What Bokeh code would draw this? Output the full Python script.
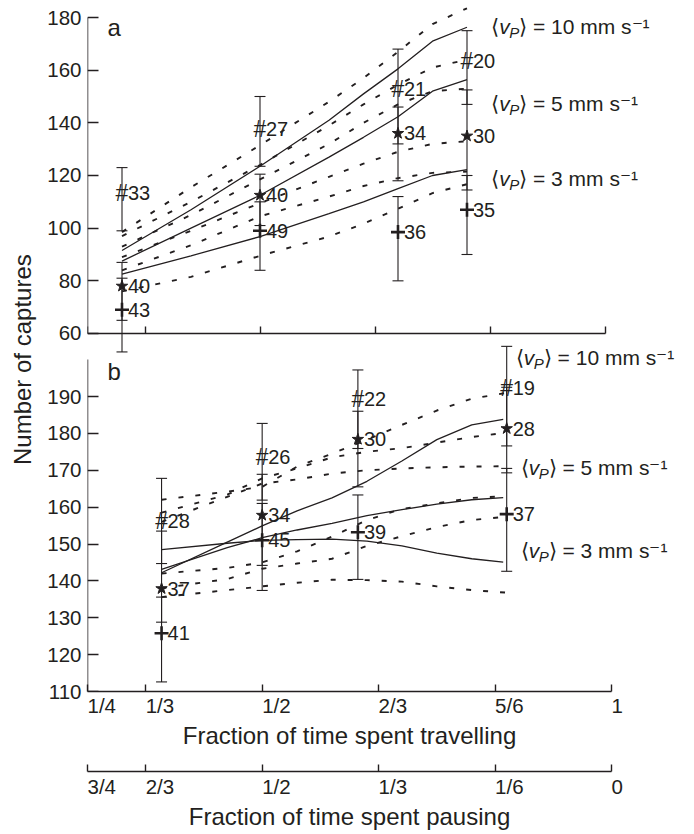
import math
from bokeh.plotting import figure
from bokeh.models import Range1d, LinearAxis, FixedTicker, Label
from bokeh.layouts import column
from bokeh.embed import file_html
from bokeh.resources import INLINE
from bokeh.core.properties import value
from bokeh.core.validation import silence
from bokeh.core.validation.warnings import MISSING_RENDERERS

silence(MISSING_RENDERERS, True)

# ------------------------------------------------------------------ data
TICKS_X = [1 / 4, 1 / 3, 1 / 2, 2 / 3, 5 / 6, 1.0]
TRAVEL_LABELS = ["1/4", "1/3", "1/2", "2/3", "5/6", "1"]
PAUSE_LABELS = ["3/4", "2/3", "1/2", "1/3", "1/6", "0"]
TICKS_Y_A = [60, 80, 100, 120, 140, 160, 180]
TICKS_Y_B = [110, 120, 130, 140, 150, 160, 170, 180, 190]
SPEED_TXT = ["10", "5", "3"]

# panel a : observations  (# = 10, star = 5, plus = 3 mm/s)
COL_A = [0.30, 0.50, 0.70, 0.80]
HASH_A = [113.5, 137.5, 153.0, 163.5]
HASH_A_LO = [99.0, 123.5, 132.0, 147.0]
HASH_A_HI = [123.0, 150.0, 168.0, 175.0]
HASH_A_N = [33, 27, 21, 20]
STAR_A = [78.0, 112.5, 136.0, 135.0]
STAR_A_LO = [65.0, 101.0, 118.0, 114.5]
STAR_A_HI = [87.0, 120.5, 146.0, 152.5]
STAR_A_N = [40, 40, 34, 30]
PLUS_A = [69.0, 99.0, 98.5, 107.0]
PLUS_A_LO = [53.0, 84.0, 80.0, 90.0]
PLUS_A_HI = [81.0, 110.0, 112.0, 120.0]
PLUS_A_N = [43, 49, 36, 35]

# panel a : model curves
FIT_A_X = [0.30, 0.40, 0.50, 0.60, 0.65, 0.70, 0.75, 0.80]
FIT_A_10 = [91.5, 107.0, 123.5, 141.0, 151.0, 160.5, 171.0, 176.3]
FIT_A_5 = [87.5, 100.0, 112.5, 127.0, 134.5, 142.3, 152.0, 156.4]
FIT_A_3 = [82.5, 89.5, 96.8, 105.5, 110.0, 115.0, 120.0, 122.2]
DASH_A_X = [0.30, 0.40, 0.50, 0.60, 0.65, 0.70, 0.75, 0.80]
DASH_A_1 = [98.5, 115.5, 131.5, 148.0, 157.0, 167.0, 177.5, 183.5]
DASH_A_2 = [97.0, 110.0, 124.0, 139.0, 147.0, 154.5, 161.0, 164.0]
DASH_A_3 = [93.0, 105.0, 118.5, 132.0, 140.0, 147.0, 152.0, 153.0]
DASH_A_4 = [89.0, 99.0, 109.5, 119.5, 124.5, 129.0, 132.0, 133.0]
DASH_A_5 = [84.0, 93.5, 104.5, 112.0, 116.0, 119.0, 121.0, 121.5]
DASH_A_6 = [76.0, 81.5, 89.5, 96.8, 101.7, 107.4, 113.3, 116.7]

# panel b : observations
COL_B = [0.356, 0.50, 0.637, 0.85]
HASH_B = [156.3, 173.7, 189.3, 192.2]
HASH_B_LO = [144.7, 161.9, 175.9, 176.6]
HASH_B_HI = [167.8, 182.7, 197.2, 203.6]
HASH_B_N = [28, 26, 22, 19]
STAR_B = [137.9, 157.8, 178.4, 181.3]
STAR_B_LO = [128.8, 144.2, 165.5, 169.3]
STAR_B_HI = [153.5, 168.9, 186.0, 192.5]
STAR_B_N = [37, 34, 30, 28]
PLUS_B = [125.8, 151.0, 153.2, 158.1]
PLUS_B_LO = [112.6, 137.4, 140.4, 142.6]
PLUS_B_HI = [135.6, 161.0, 163.3, 170.5]
PLUS_B_N = [41, 45, 39, 37]

# panel b : model curves
FIT_B_X = [0.356, 0.45, 0.50, 0.55, 0.60, 0.65, 0.70, 0.75, 0.80, 0.845]
FIT_B_10 = [142.2, 150.5, 154.9, 159.0, 162.5, 167.0, 172.5, 178.3, 182.3, 183.8]
FIT_B_5 = [143.1, 149.0, 151.7, 153.8, 155.6, 157.7, 159.3, 160.8, 162.0, 162.6]
FIT_B_3 = [148.5, 150.2, 151.0, 151.2, 151.3, 150.8, 149.5, 147.5, 146.0, 145.1]
DASH_B_X = [0.356, 0.45, 0.50, 0.55, 0.60, 0.65, 0.70, 0.75, 0.80, 0.85]
DASH_B_1 = [162.0, 164.2, 165.5, 171.0, 174.5, 178.3, 182.3, 186.2, 189.4, 191.0]
DASH_B_2 = [158.5, 163.4, 167.8, 170.5, 173.5, 175.0, 176.0, 177.5, 179.0, 180.2]
DASH_B_3 = [156.0, 162.8, 166.4, 167.5, 169.1, 170.0, 170.5, 170.8, 171.0, 171.1]
DASH_B_4 = [142.0, 143.5, 145.0, 148.0, 152.0, 156.5, 159.5, 161.0, 162.5, 163.0]
DASH_B_5 = [138.0, 140.5, 143.3, 144.7, 146.0, 149.5, 152.1, 154.6, 156.5, 157.4]
DASH_B_6 = [135.6, 137.5, 138.5, 139.5, 140.3, 140.2, 139.8, 138.5, 137.5, 136.8]

# anchors of the speed annotations (data units of each panel)
LAB_A_X = [0.835, 0.835, 0.835]
LAB_A_Y = [176.5, 147.2, 118.8]
LAB_B_X = [0.863, 0.870, 0.870]
LAB_B_Y = [200.7, 170.8, 148.2]

# ------------------------------------------------------------------ style / geometry
FONT = "Liberation Sans"
INK = "#231f20"
FIG_W = 694
BORDER_L = 87
FRAME_W = 524
FRAME_H = 691
MAIN_BOTTOM = 64
PAUSE_FRAME = 16
PAUSE_BOTTOM = 63
PX_A = 2.6333          # px per capture, panel a
PX_B = 3.6875          # px per capture, panel b
PX_XA = 690.0          # px per unit fraction, panel a
PX_XB = FRAME_W / 0.75

ya_end = 180 + 17 / PX_A
ya = Range1d(ya_end - FRAME_H / PX_A, ya_end)
yb = Range1d(110, 110 + FRAME_H / PX_B)
xb = Range1d(0.25, 1.0)
xa = Range1d(0.25, 0.25 + FRAME_W / PX_XA)

p = figure(width=FIG_W, height=FRAME_H + MAIN_BOTTOM, x_range=xb, y_range=yb,
           x_axis_location=None, y_axis_location=None, toolbar_location=None,
           output_backend="svg", min_border_left=BORDER_L,
           min_border_right=FIG_W - BORDER_L - FRAME_W, min_border_top=0,
           min_border_bottom=MAIN_BOTTOM)
p.extra_x_ranges = {"xa": xa}
p.extra_y_ranges = {"ya": ya}
p.outline_line_color = None
p.xgrid.visible = False
p.ygrid.visible = False
p.background_fill_color = "white"
p.border_fill_color = "white"

TXT = dict(text_font=value(FONT), text_color=INK, text_baseline="middle")
NUM = dict(text_font_size="20px", text_align="left", **TXT)


def draw_panel(xn, yn, cols, series, fits_x, fits, dash_x, dashes, lab_x, lab_y):
    kw = dict(x_range_name=xn, y_range_name=yn)
    for d in dashes:
        p.line(dash_x, d, line_color=INK, line_width=1.9, line_dash="5 12", **kw)
    for f in fits:
        p.line(fits_x, f, line_color=INK, line_width=1.3, **kw)
    for kind, vals, lo, hi, n in series:
        p.segment(x0=cols, y0=lo, x1=cols, y1=hi, line_color=INK, line_width=1.1,
                  level="overlay", **kw)
        p.scatter(cols + cols, lo + hi, marker="dash", size=11, line_color=INK,
                  line_width=1.1, level="overlay", **kw)
    for kind, vals, lo, hi, n in series:
        if kind == "hash":
            p.text(cols, vals, text=value("#"), text_font_size="23px", text_align="center",
                   **TXT, **kw)
        elif kind == "star":
            p.scatter(cols, vals, marker="star", size=12, fill_color=INK, line_color=INK, **kw)
        else:
            p.scatter(cols, vals, marker="cross", size=14, line_color=INK, line_width=2.6, **kw)
        p.text(cols, vals, text=[str(v) for v in n], x_offset=6, **NUM, **kw)
    tk = dict(level="overlay", text_align="left", **TXT, **kw)
    p.text(lab_x, lab_y, text=value("\u27e8"), x_offset=0, text_font_size="21px", **tk)
    p.text(lab_x, lab_y, text=value("v"), x_offset=8, text_font_size="21px",
           text_font_style="italic", **tk)
    p.text(lab_x, lab_y, text=value("P"), x_offset=18, y_offset=6, text_font_size="15px",
           text_font_style="italic", **tk)
    p.text(lab_x, lab_y, text=[f"\u27e9 = {s} mm s\u207b\u00b9" for s in SPEED_TXT],
           x_offset=28, text_font_size="21px", **tk)


draw_panel("xa", "ya", COL_A,
           [("hash", HASH_A, HASH_A_LO, HASH_A_HI, HASH_A_N),
            ("star", STAR_A, STAR_A_LO, STAR_A_HI, STAR_A_N),
            ("plus", PLUS_A, PLUS_A_LO, PLUS_A_HI, PLUS_A_N)],
           FIT_A_X, [FIT_A_10, FIT_A_5, FIT_A_3],
           DASH_A_X, [DASH_A_1, DASH_A_2, DASH_A_3, DASH_A_4, DASH_A_5, DASH_A_6],
           LAB_A_X, LAB_A_Y)
draw_panel("default", "default", COL_B,
           [("hash", HASH_B, HASH_B_LO, HASH_B_HI, HASH_B_N),
            ("star", STAR_B, STAR_B_LO, STAR_B_HI, STAR_B_N),
            ("plus", PLUS_B, PLUS_B_LO, PLUS_B_HI, PLUS_B_N)],
           FIT_B_X, [FIT_B_10, FIT_B_5, FIT_B_3],
           DASH_B_X, [DASH_B_1, DASH_B_2, DASH_B_3, DASH_B_4, DASH_B_5, DASH_B_6],
           LAB_B_X, LAB_B_Y)

AX = dict(axis_line_color=INK, axis_line_width=1.5, major_tick_line_color=INK,
          major_tick_line_width=1.4, major_tick_out=0, minor_tick_in=0, minor_tick_out=0,
          major_label_text_font_size="0px", major_label_standoff=0)


def blank(ticks):
    return {t: "" for t in ticks}


# y axes (fixed at x = 1/4), labels drawn as text next to the ticks
p.add_layout(LinearAxis(x_range_name="xa", y_range_name="ya", fixed_location=0.25,
                        bounds=(60, 180), ticker=FixedTicker(ticks=TICKS_Y_A),
                        major_label_overrides=blank(TICKS_Y_A), major_tick_in=11, **AX), "left")
p.add_layout(LinearAxis(fixed_location=0.25, bounds=(110, 200),
                        ticker=FixedTicker(ticks=TICKS_Y_B),
                        major_label_overrides=blank(TICKS_Y_B), major_tick_in=11, **AX), "left")
YL = dict(x_offset=-6, level="overlay", text_font_size="20.5px", text_align="right", **TXT)
p.text(0.25, TICKS_Y_A, text=[str(t) for t in TICKS_Y_A], x_range_name="xa",
       y_range_name="ya", **YL)
p.text(0.25, TICKS_Y_B, text=[str(t) for t in TICKS_Y_B], **YL)

# x axes
TITLE = dict(axis_label_text_font=FONT, axis_label_text_font_size="24px",
             axis_label_text_font_style="normal", axis_label_text_color=INK)
travel = LinearAxis(bounds=(0.25, 1.0), ticker=FixedTicker(ticks=TICKS_X),
                    major_label_overrides=blank(TICKS_X), major_tick_in=7,
                    axis_label="Fraction of time spent travelling",
                    axis_label_standoff=30, **TITLE, **AX)
p.add_layout(travel, "below")
p.add_layout(LinearAxis(x_range_name="xa", y_range_name="ya", fixed_location=60,
                        bounds=(0.25, 1.0), ticker=FixedTicker(ticks=TICKS_X),
                        major_label_overrides=blank(TICKS_X), major_tick_in=7, **AX), "below")
XL = dict(level="overlay", text_font_size="20.5px", text_align="left", **TXT)
p.text(TICKS_X, 110, text=TRAVEL_LABELS, y_offset=14, **XL)

# panel letters and y title
LBL = dict(text_font=FONT, text_color=INK, text_baseline="middle", text_align="left")
p.add_layout(Label(x=0.25, y=180, x_range_name="xa", y_range_name="ya", x_offset=20,
                   y_offset=-10, text="a", text_font_size="24px", **LBL))
p.add_layout(Label(x=0.25, y=200, x_offset=20, y_offset=-12, text="b",
                   text_font_size="24px", **LBL))
p.text(0.25 - 65 / PX_XB, 200, text=value("Number of captures"), angle=math.pi / 2,
       text_font_size="24px", text_align="center", level="overlay", **TXT)

# pausing axis: its own thin figure sharing the x range
q = figure(width=FIG_W, height=PAUSE_FRAME + PAUSE_BOTTOM, x_range=xb, y_range=Range1d(0, 1),
           x_axis_location=None, y_axis_location=None, toolbar_location=None,
           output_backend="svg", min_border_left=BORDER_L,
           min_border_right=FIG_W - BORDER_L - FRAME_W, min_border_top=0,
           min_border_bottom=PAUSE_BOTTOM)
q.outline_line_color = None
q.xgrid.visible = False
q.ygrid.visible = False
pause = LinearAxis(bounds=(0.25, 1.0), ticker=FixedTicker(ticks=TICKS_X),
                   major_label_overrides=blank(TICKS_X), major_tick_in=7,
                   axis_label="Fraction of time spent pausing",
                   axis_label_standoff=31, **TITLE, **AX)
q.add_layout(pause, "below")
q.text(TICKS_X, 0, text=PAUSE_LABELS, y_offset=15, **XL)

layout = column(p, q, spacing=0)
open("out.html", "w").write(file_html(layout, INLINE))
